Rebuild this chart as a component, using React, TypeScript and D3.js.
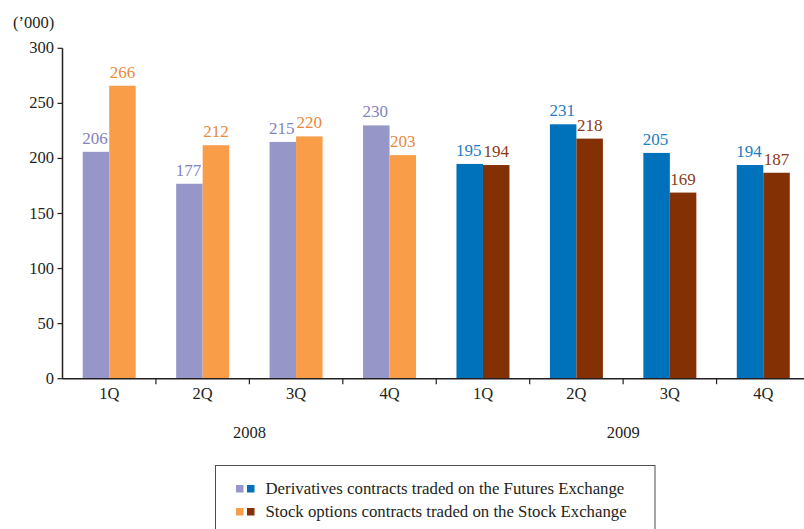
import React from "react";
import * as d3 from "d3";

const quarters = ["1Q", "2Q", "3Q", "4Q", "1Q", "2Q", "3Q", "4Q"];
const years = ["2008", "2009"];
const derivatives = [206, 177, 215, 230, 195, 231, 205, 194];
const stockOptions = [266, 212, 220, 203, 194, 218, 169, 187];
const yTicks = [0, 50, 100, 150, 200, 250, 300];
const legendLabels = [
  "Derivatives contracts traded on the Futures Exchange",
  "Stock options contracts traded on the Stock Exchange",
];
// colours: [2008, 2009]
const derivColors = ["#9696C9", "#0072BC"];
const stockColors = ["#F99D48", "#843005"];
const derivLabelColors = ["#8383BB", "#1B7EC3"];
const stockLabelColors = ["#E98A3B", "#8E3A16"];

const W = 804;
const H = 529;
const FONT = "Liberation Serif, Times New Roman, serif";
const INK = "#231F20";

export default function App() {
  const x0 = 62.5;
  const x1 = 810;
  const yTop = 48.3;
  const yBottom = 378.7;
  const x = d3
    .scaleBand<number>()
    .domain(d3.range(quarters.length))
    .range([x0, x1]);
  const y = d3.scaleLinear().domain([0, 300]).range([yBottom, yTop]);
  const bw = x.bandwidth();
  const barW = 26.5;

  return (
    <div style={{ position: "absolute", left: 0, top: 0 }}>
      <svg width={W} height={H} style={{ display: "block", background: "#fff", fontFamily: FONT }}>
        <text x={13} y={28} fontSize={16.5} fill={INK}>
          (’000)
        </text>
        {/* bars */}
        {quarters.map((q, i) => {
          const yr = i < 4 ? 0 : 1;
          const cx = (x(i) as number) + bw / 2;
          const d = derivatives[i];
          const s = stockOptions[i];
          return (
            <g key={i}>
              <rect x={cx - barW} y={y(d)} width={barW} height={yBottom - y(d)} fill={derivColors[yr]} />
              <rect x={cx} y={y(s)} width={barW} height={yBottom - y(s)} fill={stockColors[yr]} />
              <text x={cx - barW / 2 - 1} y={y(d) - 8} fontSize={17} textAnchor="middle" fill={derivLabelColors[yr]}>
                {d}
              </text>
              <text x={cx + barW / 2} y={y(s) - 8} fontSize={17} textAnchor="middle" fill={stockLabelColors[yr]}>
                {s}
              </text>
              <text x={cx} y={398.5} fontSize={16.5} textAnchor="middle" fill={INK}>
                {q}
              </text>
            </g>
          );
        })}
        {/* y axis */}
        <line x1={x0} x2={x0} y1={yTop} y2={yBottom} stroke={INK} strokeWidth={1.5} />
        {yTicks.map((t) => (
          <g key={t}>
            <line x1={x0 - 5} x2={x0} y1={y(t)} y2={y(t)} stroke={INK} strokeWidth={1.2} />
            <text x={54} y={y(t) + 5} fontSize={16.5} textAnchor="end" fill={INK}>
              {t}
            </text>
          </g>
        ))}
        {/* x axis */}
        <line x1={x0} x2={W} y1={yBottom} y2={yBottom} stroke={INK} strokeWidth={1.5} />
        {d3.range(1, quarters.length).map((i) => (
          <line
            key={i}
            x1={x(i) as number}
            x2={x(i) as number}
            y1={yBottom}
            y2={yBottom + 5.5}
            stroke={INK}
            strokeWidth={1.2}
          />
        ))}
        {years.map((yr, k) => (
          <text key={yr} x={x(k * 4 + 2) as number} y={437.5} fontSize={16.5} textAnchor="middle" fill={INK}>
            {yr}
          </text>
        ))}
        {/* legend */}
        <rect x={215.5} y={465.5} width={439.5} height={80} fill="none" stroke="#4D4D4F" strokeWidth={1} />
        {legendLabels.map((lab, k) => {
          const cy = 489 + k * 23;
          const cols = k === 0 ? derivColors : stockColors;
          return (
            <g key={lab}>
              <rect x={236} y={cy - 4} width={7.5} height={7.5} fill={cols[0]} />
              <rect x={247} y={cy - 4} width={7.5} height={7.5} fill={cols[1]} />
              <text x={265.5} y={cy + 5} fontSize={16.8} fill={INK}>
                {lab}
              </text>
            </g>
          );
        })}
      </svg>
    </div>
  );
}
